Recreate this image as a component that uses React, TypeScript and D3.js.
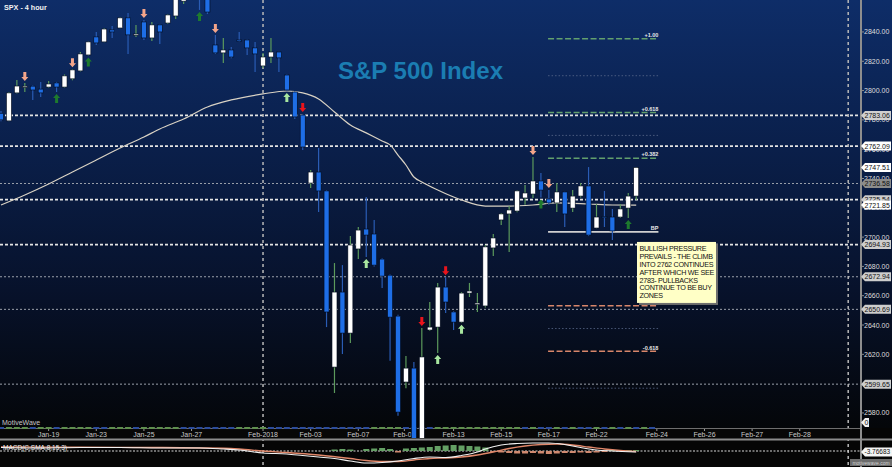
import React from "react";
import * as d3 from "d3";

const WIDTH = 892;
const HEIGHT = 467;
const PLOT_RIGHT = 860;
const PLOT_BOTTOM = 438;
const FONT = "'Liberation Sans', Arial, Helvetica, sans-serif";

// SPX 4-hour candles (bar index 0..80)
const opens = [
  2784.5, 2779.3, 2798.4, 2802.5, 2803, 2801, 2802.4, 2805.2, 2802.4, 2808,
  2813.4, 2824.3, 2836.6, 2833.2, 2841.4, 2842.7, 2849.6, 2838, 2846.8, 2835.9,
  2844.8, 2846.1, 2850.9, 2861, 2864, 2870, 2866, 2831.1, 2825.7, 2827.7,
  2834.5, 2834.5, 2829.1, 2816.8, 2822.9, 2826.3, 2810.6, 2799, 2783.3, 2736.9,
  2744.4, 2731.5, 2611.3, 2662.5, 2634.5, 2691.9, 2705.5, 2702.1, 2685, 2674,
  2646.1, 2601.1, 2610.6, 2540, 2636.6, 2638.6, 2665.9, 2648.9, 2642, 2661.8,
  2654, 2653, 2692.6, 2711.7, 2715.8, 2717.8, 2726.7, 2729.4, 2738.3, 2726,
  2723.3, 2730.8, 2719.8, 2728, 2734.9, 2706.2, 2714, 2713.7, 2713.7, 2719.8,
  2728,
];
const highs = [
  2786, 2799, 2807.2, 2805.2, 2803.5, 2805.9, 2806.6, 2805.9, 2811, 2814.5,
  2826.3, 2833.5, 2840, 2842.5, 2844.1, 2850, 2853, 2844.8, 2848.2, 2846.8,
  2845, 2852, 2866, 2868, 2873, 2872, 2868, 2838, 2835.9, 2829.8,
  2840, 2834.8, 2833.2, 2825.7, 2835.9, 2826.5, 2811, 2799.5, 2784, 2745.8,
  2760.8, 2732, 2682.3, 2680.9, 2700.7, 2706.9, 2727.4, 2711.7, 2685.5, 2674.5,
  2647, 2618.8, 2614.7, 2637.9, 2655.7, 2668.7, 2672.6, 2649.5, 2662.5, 2668.7,
  2661.8, 2694.6, 2702.1, 2716.5, 2721.2, 2732, 2735.6, 2754.7, 2743.7, 2732.1,
  2736.9, 2731, 2732.1, 2736.9, 2747.8, 2722.6, 2731.5, 2719.2, 2722.6, 2730.1,
  2747.8,
];
const lows = [
  2779, 2779, 2798, 2799, 2793.6, 2795.6, 2802, 2799, 2802, 2807,
  2813, 2824, 2831.1, 2833, 2835.9, 2842.5, 2825, 2836.6, 2834.5, 2833.9,
  2831.8, 2845.5, 2848.9, 2859, 2863, 2855, 2852.3, 2825, 2818.8, 2822,
  2833.2, 2824.3, 2812.7, 2815.4, 2818.8, 2812.7, 2799.7, 2780.6, 2759.4, 2733.5,
  2717.1, 2638.6, 2593.6, 2620.2, 2627.7, 2685, 2686.4, 2680, 2665.3, 2615.6,
  2578, 2596.9, 2533, 2533, 2636, 2620.9, 2648.2, 2636.6, 2641.5, 2659.1,
  2648.9, 2652, 2687.1, 2708.3, 2689.8, 2717, 2722, 2726.7, 2727, 2722,
  2717.1, 2706.9, 2717.1, 2727, 2700.7, 2706, 2706.9, 2698, 2713, 2713,
  2725.3,
];
const closes = [
  2780, 2798.4, 2803.1, 2803, 2800.4, 2798.4, 2804.5, 2802.4, 2810, 2814.1,
  2825, 2833.2, 2832.5, 2842, 2840, 2849.6, 2838, 2838.6, 2835.9, 2844.8,
  2840, 2851.6, 2863, 2864, 2870, 2863, 2853.6, 2825.7, 2827.7, 2822.9,
  2833.9, 2829.1, 2825, 2822.9, 2826.3, 2822.3, 2800.4, 2782, 2761.5, 2744.4,
  2731.5, 2648.9, 2662.5, 2634.5, 2694.6, 2704.8, 2701.4, 2680.9, 2673.4, 2645.4,
  2580.6, 2610.6, 2540, 2618.2, 2638.6, 2665.9, 2655.7, 2642, 2661.8, 2663.2,
  2655, 2693.3, 2699.4, 2715.8, 2718.5, 2731.5, 2730.1, 2738.3, 2732.1, 2723.3,
  2730.8, 2715.8, 2728, 2734.9, 2701.4, 2713.7, 2713.3, 2704.2, 2719.2, 2728,
  2747.51,
];

// Trade signal arrows
const signalBars = [3, 7, 9, 11, 18, 25, 27, 36, 38, 46, 53, 55, 56, 58, 67, 68, 69, 79];
const signalKinds = [
  "sell", "buy", "sell", "buy", "sell", "buy", "sell", "buyLight", "sellStrong",
  "buyLight", "sellStrong", "buyLight", "sellStrong", "buyLight", "sell", "buy", "sell", "buy",
];

// Moving average
const maBars = [0, 3, 6, 9, 12, 15, 18, 20, 23, 26, 29, 33, 36, 38, 40, 42, 44, 46, 48, 49, 50, 51, 52, 53, 55, 58, 61, 64, 67, 70, 74, 77, 80];
const maValues = [
  2721.9, 2728.7, 2736.2, 2744.4, 2752.6, 2760.8, 2768.3, 2773.8, 2780.6, 2788.8,
  2793.6, 2797.7, 2799.7, 2798.4, 2794.3, 2785.4, 2776.5, 2771.1, 2765.6, 2762.9,
  2756.0, 2749.2, 2741.0, 2737.6, 2732.1, 2725.3, 2721.2, 2721.2, 2721.9, 2723.3,
  2722.6, 2721.9, 2721.85,
];

// Date axis
const dateTickBars = [6, 12, 18, 24, 33, 39, 45, 50.8, 57, 63, 69, 75, 82.6, 88.6, 94.6, 100.6];
const dateTickLabels = [
  "Jan-19", "Jan-23", "Jan-25", "Jan-27", "Feb-2018", "Feb-03", "Feb-07", "Feb-09",
  "Feb-13", "Feb-15", "Feb-17", "Feb-22", "Feb-24", "Feb-26", "Feb-27", "Feb-28",
];
const dividerBars = [33, 106.7];

// Price axis
const priceTicks = [2580, 2600, 2620, 2640, 2660, 2680, 2700, 2720, 2740, 2760, 2780, 2800, 2820, 2840];

// Horizontal support / resistance levels
const levelValues = [2783.06, 2762.09, 2725.54, 2694.93, 2736.58, 2672.94, 2650.69, 2599.65];
const levelStrong = [true, true, true, true, false, false, false, false];
const levelBoxFill = ["#cfcfcf", "#ffffff", "#cdcdcd", "#cdcdcd", "#8c8c8c", "#cdcdcd", "#cdcdcd", "#cdcdcd"];
const markerValues = [2747.51, 2721.85];
const markerBoxFill = ["#ffffff", "#ffffff"];

// Fibonacci projection
const fibBase = 2703.5;
const fibTop = 2835.3;
const fibRatios = [1.0, 0.809, 0.618, 0.5, 0.382, 0, -0.382, -0.5, -0.618, -0.809];
const fibLabels = ["+1.00", "", "+0.618", "", "+0.382", "BP", "-0.382", "", "-0.618", ""];
const fibStartBar = 68.9;
const fibEndBar = 82.8;

// Notes box
const noteBar = 80.1;
const notePrice = 2696.7;
const noteLines = [
  "BULLISH PRESSURE",
  "PREVAILS  - THE CLIMB",
  "INTO 2762 CONTINUES",
  "AFTER WHICH WE SEE",
  "2783- PULLBACKS",
  "CONTINUE TO BE BUY",
  "ZONES",
];

// MACD(8,15,3)
const macdBars = [0, 5, 10, 15, 20, 25, 28, 30, 33, 36, 38, 40, 42, 44, 46, 48, 50, 52, 54, 56, 58, 60, 61, 63, 65, 67, 69, 71, 73, 75, 77, 80];
const macdValues = [14, 12, 14, 14, 12, 12, 8, 4, -8, -12, -18, -24, -30, -40, -48, -46, -40, -30, -24, -26, -18, -4, 8, 24, 30, 32, 32, 26, 14, 4, 0, -3.77];
const signalLineBars = [0, 10, 20, 28, 30, 33, 36, 40, 44, 46, 48, 50, 52, 54, 56, 58, 60, 62, 64, 66, 68, 70, 72, 74, 76, 78, 80];
const signalLineValues = [16, 15, 14, 11, 8, 0, -6, -16, -30, -38, -42, -42, -36, -30, -28, -24, -16, -4, 10, 20, 26, 28, 24, 16, 8, 2, -2];
const histBars = [42, 43, 44, 46, 47, 48, 49, 50, 51, 52, 53, 54, 55, 56, 57, 58, 59, 60, 61, 62, 63, 64, 65, 66, 67, 68, 69, 70, 71, 72, 73, 74, 75, 76, 77, 78, 79, 80];
const histValues = [6, 8, 6, 8, 10, 12, 8, -6, 10, 12, 14, 16, 20, 22, 24, 22, 20, 18, 14, -4, -6, -8, -10, -10, -8, -10, -12, -10, -8, -8, -6, -8, -6, -4, 4, 4, 4, 4];

// Trend strip colouring per bar (g = up, b = down)
const stripColors =
  "bgggbggbggggbbgggbgggggbbbbbbbggggbbbbbbbbbbbbbggggbbbbgggggggggggbgbbgbgbbgbgbgbgbg";

function arrowPath(cx: number, tip: number, down: boolean): string {
  const s = down ? -1 : 1; // direction from tip toward tail
  return [
    `M${cx},${tip}`,
    `L${cx + 3.5},${tip + s * 4}`,
    `L${cx + 1.5},${tip + s * 4}`,
    `L${cx + 1.5},${tip + s * 9}`,
    `L${cx - 1.5},${tip + s * 9}`,
    `L${cx - 1.5},${tip + s * 4}`,
    `L${cx - 3.5},${tip + s * 4}`,
    "Z",
  ].join(" ");
}

const arrowFill: Record<string, string> = {
  sell: "#f4a58a",
  sellStrong: "#e8141c",
  buy: "#1e7a2e",
  buyLight: "#a8e6a0",
};

function tagPath(x0: number, cy: number, w: number): string {
  return `M${x0},${cy} L${x0 + 4},${cy - 4.5} L${x0 + w},${cy - 4.5} L${x0 + w},${cy + 4.5} L${x0 + 4},${cy + 4.5} Z`;
}

export default function App() {
  const x = d3.scaleLinear().domain([0, 100]).range([1, 795]);
  const y = d3.scaleLinear().domain([2562.9, 2861.8]).range([PLOT_BOTTOM, 0]);
  const ym = d3.scaleLinear().domain([-60, 44]).range([466, 440]);

  const maLine = d3
    .line<number>()
    .x((_, i) => x(maBars[i]))
    .y((v) => y(v))
    .curve(d3.curveMonotoneX);

  const macdLine = d3
    .line<number>()
    .x((_, i) => x(macdBars[i]))
    .y((v) => ym(v))
    .curve(d3.curveMonotoneX);

  const sigLine = d3
    .line<number>()
    .x((_, i) => x(signalLineBars[i]))
    .y((v) => ym(v))
    .curve(d3.curveMonotoneX);

  const bodyW = 5;
  const fibX0 = x(fibStartBar);
  const fibX1 = x(fibEndBar);
  const noteX = x(noteBar);
  const noteY = y(notePrice);
  const tagW = 30;
  const tagFont = 7;

  return (
    <svg
      width={WIDTH}
      height={HEIGHT}
      style={{ position: "fixed", left: 0, top: 0, display: "block" }}
      fontFamily={FONT}
    >
      <defs>
        <linearGradient id="bgGrad" x1="0" y1="0" x2="0" y2="1">
          <stop offset="0%" stopColor="#0e2d68" />
          <stop offset="35%" stopColor="#0a1f4a" />
          <stop offset="70%" stopColor="#071129" />
          <stop offset="100%" stopColor="#040609" />
        </linearGradient>
        <clipPath id="plotClip">
          <rect x={0} y={0} width={PLOT_RIGHT} height={PLOT_BOTTOM} />
        </clipPath>
        <clipPath id="macdClip">
          <rect x={0} y={441} width={PLOT_RIGHT} height={26} />
        </clipPath>
      </defs>

      {/* backgrounds */}
      <rect x={0} y={0} width={WIDTH} height={HEIGHT} fill="#050505" />
      <rect x={0} y={0} width={WIDTH} height={428} fill="url(#bgGrad)" />

      {/* title */}
      <text x={338} y={79} fontSize={24} fontWeight="bold" fill="#1b7db2">
        S&amp;P 500 Index
      </text>
      <text x={4} y={9.5} fontSize={7.2} fontWeight="bold" fill="#f2f2f2">
        SPX - 4 hour
      </text>

      {/* horizontal levels */}
      {levelValues.map((v, i) => (
        <line
          key={"lv" + i}
          x1={0}
          x2={PLOT_RIGHT}
          y1={y(v)}
          y2={y(v)}
          stroke={levelStrong[i] ? "#e4e4e4" : "#9aa0ab"}
          strokeWidth={levelStrong[i] ? 1.8 : 1}
          strokeDasharray={levelStrong[i] ? "3,2" : "2,2"}
        />
      ))}

      {/* fib projection */}
      {fibRatios.map((r, i) => {
        const py = y(fibBase + r * (fibTop - fibBase));
        const label = fibLabels[i];
        let stroke = "#5a6a8c";
        let width = 0.8;
        let dash = "1.5,2";
        if (r === 0) {
          stroke = "#d0d0d0";
          width = 1.8;
          dash = "";
        } else if (label && r > 0) {
          stroke = "#62a06e";
          width = 1.5;
          dash = "6,2.5";
        } else if (label && r < 0) {
          stroke = "#d8866a";
          width = 1.5;
          dash = "6,2.5";
        }
        return (
          <g key={"fib" + i}>
            <line x1={fibX0} x2={fibX1} y1={py} y2={py} stroke={stroke} strokeWidth={width} strokeDasharray={dash || undefined} />
            {label && (
              <text x={fibX1} y={py - 1.8} fontSize={5.5} fontWeight="bold" fill="#e8e8e8" textAnchor="end">
                {label}
              </text>
            )}
          </g>
        );
      })}

      {/* vertical dividers */}
      {dividerBars.map((b, i) => (
        <line
          key={"vd" + i}
          x1={x(b)}
          x2={x(b)}
          y1={0}
          y2={HEIGHT}
          stroke="#b8b8b8"
          strokeWidth={1.5}
          strokeDasharray="3,3"
        />
      ))}

      {/* date axis band */}
      <rect x={0} y={429} width={PLOT_RIGHT} height={10} fill="#070707" />
      <line x1={0} x2={PLOT_RIGHT} y1={428.5} y2={428.5} stroke="#6e6e6e" strokeWidth={1} />
      {opens.concat([0, 0]).map((_, i) => {
        const c = stripColors.charAt(i) === "g" ? "#5f8f4e" : "#2c4c9c";
        return (
          <line
            key={"st" + i}
            x1={x(i) - 3}
            x2={x(i) + 3}
            y1={428}
            y2={428}
            stroke={c}
            strokeWidth={2}
          />
        );
      })}
      {dateTickBars.map((b, i) => (
        <g key={"dt" + i}>
          <line x1={x(b)} x2={x(b)} y1={429} y2={431} stroke="#9a9a9a" strokeWidth={1} />
          <text x={x(b)} y={437} fontSize={7} fill="#c8c8c8" textAnchor="middle">
            {dateTickLabels[i]}
          </text>
        </g>
      ))}
      <text x={2} y={424.5} fontSize={7} fill="#c4c4c4">
        MotiveWave
      </text>

      {/* moving average */}
      <g clipPath="url(#plotClip)">
        <path d={maLine(maValues) || ""} fill="none" stroke="#d9d2c4" strokeWidth={1.2} />
      </g>

      {/* candles */}
      <g clipPath="url(#plotClip)">
        {opens.map((o, i) => {
          const c = closes[i];
          const up = c >= o;
          const cx = x(i);
          const top = y(Math.max(o, c));
          const bot = y(Math.min(o, c));
          return (
            <g key={"c" + i}>
              <line
                x1={cx}
                x2={cx}
                y1={y(highs[i])}
                y2={y(lows[i])}
                stroke={up ? "#5c9a5c" : "#2a5cb4"}
                strokeWidth={1.2}
              />
              <rect
                x={cx - bodyW / 2}
                y={top}
                width={bodyW}
                height={Math.max(1.2, bot - top)}
                fill={up ? "#ffffff" : "#1e6ee6"}
                stroke="#020a1c"
                strokeWidth={0.6}
              />
            </g>
          );
        })}
        {signalBars.map((b, i) => {
          const kind = signalKinds[i];
          const down = kind.startsWith("sell");
          const tip = down ? y(highs[b]) - 2 : y(lows[b]) + 2;
          return <path key={"ar" + i} d={arrowPath(x(b), tip, down)} fill={arrowFill[kind]} />;
        })}
      </g>

      {/* notes box */}
      <rect x={noteX + 2} y={noteY + 2} width={79} height={61} fill="#6f6f6f" />
      <rect x={noteX} y={noteY} width={79} height={61} fill="#ffffc6" />
      {noteLines.map((t, i) => (
        <text key={"nl" + i} x={noteX + 2.5} y={noteY + 9 + i * 7.9} fontSize={7.2} fill="#111" letterSpacing={-0.3}>
          {t}
        </text>
      ))}

      {/* price axis */}
      <rect x={PLOT_RIGHT} y={0} width={2} height={439} fill="#8e8e8e" />
      {priceTicks.map((v) => (
        <g key={"pt" + v}>
          <line x1={PLOT_RIGHT} x2={PLOT_RIGHT + 4} y1={y(v)} y2={y(v)} stroke="#8e8e8e" strokeWidth={1} />
          <text x={PLOT_RIGHT + 4} y={y(v) + 2.5} fontSize={tagFont} fill="#dedede">
            {v.toFixed(2)}
          </text>
        </g>
      ))}
      {levelValues.map((v, i) => (
        <g key={"lt" + i}>
          <path d={tagPath(PLOT_RIGHT + 1, y(v), tagW)} fill={levelBoxFill[i]} />
          <text x={PLOT_RIGHT + 4.5} y={y(v) + 2.5} fontSize={tagFont} fill="#111">
            {v.toFixed(2)}
          </text>
        </g>
      ))}
      {markerValues.map((v, i) => (
        <g key={"mk" + i}>
          <path d={tagPath(PLOT_RIGHT + 1, y(v), tagW)} fill={markerBoxFill[i]} />
          <text x={PLOT_RIGHT + 4.5} y={y(v) + 2.5} fontSize={tagFont} fill="#111">
            {v.toFixed(2)}
          </text>
        </g>
      ))}
      <path d={tagPath(PLOT_RIGHT + 1, 422.5, 8)} fill="#f0f0f0" />
      <text x={PLOT_RIGHT + 4.5} y={425} fontSize={7} fill="#111">
        0
      </text>

      {/* panel separator */}
      <rect x={0} y={438.5} width={WIDTH} height={2} fill="#8c8c8c" />

      {/* MACD panel */}
      <rect x={PLOT_RIGHT} y={440} width={2} height={27} fill="#8e8e8e" />
      <line x1={0} x2={PLOT_RIGHT} y1={ym(0)} y2={ym(0)} stroke="#d8d8d8" strokeWidth={1} strokeDasharray="2,1.5" />
      <g clipPath="url(#macdClip)">
        {histValues.map((v, i) => (
          <rect
            key={"h" + i}
            x={x(histBars[i]) - 3}
            y={Math.min(ym(v), ym(0))}
            width={6}
            height={Math.abs(ym(v) - ym(0))}
            fill={v >= 0 ? "#64a064" : "#d08a70"}
          />
        ))}
        <path d={sigLine(signalLineValues) || ""} fill="none" stroke="#e0876a" strokeWidth={1.3} />
        <path d={macdLine(macdValues) || ""} fill="none" stroke="#f2f2f2" strokeWidth={1.1} />
      </g>
      <text x={3} y={450} fontSize={6.5} fill="#eeeeee">
        MACD(C,SMA,8,15,3)
      </text>
      <path d={tagPath(PLOT_RIGHT + 1, ym(-3.77), 31)} fill="#f4f4f4" />
      <text x={PLOT_RIGHT + 4.5} y={ym(-3.77) + 2.5} fontSize={6.5} fill="#111">
        -3.76683
      </text>
      <rect x={850} y={459} width={42} height={7} fill="#6c6c6c" />
      <text x={871} y={464.5} fontSize={5} fill="#d0d0d0" textAnchor="middle">
        motivewave.com
      </text>
    </svg>
  );
}
